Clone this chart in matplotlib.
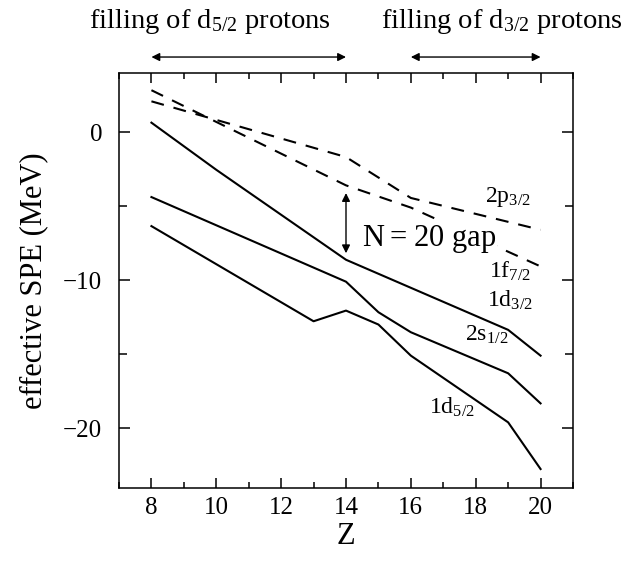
import numpy as np
import matplotlib
matplotlib.use("Agg")
import matplotlib.pyplot as plt

plt.rcParams['font.family'] = ['Liberation Serif', 'DejaVu Serif']
plt.rcParams['mathtext.default'] = 'regular'

# effective single particle energies (MeV) vs proton number Z
z_p32 = [8, 14, 16, 20]
e_p32 = [2.07, -1.69, -4.45, -6.6]

z_f72 = [8, 14, 16, 20]
e_f72 = [2.82, -3.6, -5.1, -9.07]

z_d32 = [8, 10, 14, 19, 20]
e_d32 = [0.63, -2.55, -8.62, -13.35, -15.09]

z_s12 = [8, 14, 15, 16, 19, 20]
e_s12 = [-4.39, -10.1, -12.16, -13.51, -16.28, -18.31]

z_d52 = [8, 13, 14, 15, 16, 19, 20]
e_d52 = [-6.35, -12.77, -12.05, -12.99, -15.09, -19.59, -22.74]

fig = plt.figure(figsize=(6.25, 5.65), dpi=100)
ax = fig.add_axes([0.1904, 0.1368, 0.7264, 0.7345])

lw = 1.5
dash = (6.2, 4.8)
ax.plot(z_p32, e_p32, color='black', lw=lw, dashes=dash)
ax.plot(z_f72, e_f72, color='black', lw=lw, dashes=dash)
ax.plot(z_d32, e_d32, color='black', lw=lw)
ax.plot(z_s12, e_s12, color='black', lw=lw)
ax.plot(z_d52, e_d52, color='black', lw=lw)

ax.set_xlim(7, 21)
ax.set_ylim(-24, 4)
ax.set_xticks([8, 10, 12, 14, 16, 18, 20])
ax.set_xticks(np.arange(7, 22, 1), minor=True)
ax.set_yticks([-20, -10, 0])
ax.set_yticks([-20, -15, -10, -5, 0], minor=True)

for s in ax.spines.values():
    s.set_linewidth(1.1)
ax.tick_params(which='both', direction='in', top=True, right=True, width=1.1, labelsize=18)
ax.tick_params(axis='x', which='major', length=7, pad=7)
ax.tick_params(axis='x', which='minor', length=4)
ax.tick_params(axis='y', which='major', length=8, pad=12)
ax.tick_params(axis='y', which='minor', length=6)

ax.set_xlabel('Z', fontsize=22, labelpad=2)
ax.set_ylabel('effective SPE (MeV)', fontsize=22, labelpad=11)

lab = 17
ax.text(18.3, -4.7, '2p$_{3/2}$', fontsize=lab)
ax.text(18.4, -9.8, '1f$_{7/2}$', fontsize=lab)
ax.text(18.35, -11.82, '1d$_{3/2}$', fontsize=lab)
ax.text(17.68, -14.07, '2s$_{1/2}$', fontsize=lab)
ax.text(16.57, -19.03, '1d$_{5/2}$', fontsize=lab)
ax.text(14.48, -7.66, '$N = 20$ gap', fontsize=22,
        bbox=dict(facecolor='white', edgecolor='none', pad=1))

ax.annotate('', xy=(14, -4.12), xytext=(14, -8.18),
            arrowprops=dict(arrowstyle='<|-|>', color='black', lw=1.0,
                            mutation_scale=12, shrinkA=0, shrinkB=0))

trans = ax.get_xaxis_transform()
for z0, z1 in [(8, 14), (16, 20)]:
    ax.annotate('', xy=(z0, 1.0378), xytext=(z1, 1.0378), xycoords=trans, textcoords=trans,
                arrowprops=dict(arrowstyle='<|-|>', color='black', lw=1.0,
                                mutation_scale=12, shrinkA=0, shrinkB=0),
                annotation_clip=False)

fig.text(210 / 625, 1 - 28 / 565, 'filling of d$_{5/2}$ protons', fontsize=20.5, ha='center', va='baseline')
fig.text(502 / 625, 1 - 28 / 565, 'filling of d$_{3/2}$ protons', fontsize=20.5, ha='center', va='baseline')

fig.savefig('out.png', dpi=100)
